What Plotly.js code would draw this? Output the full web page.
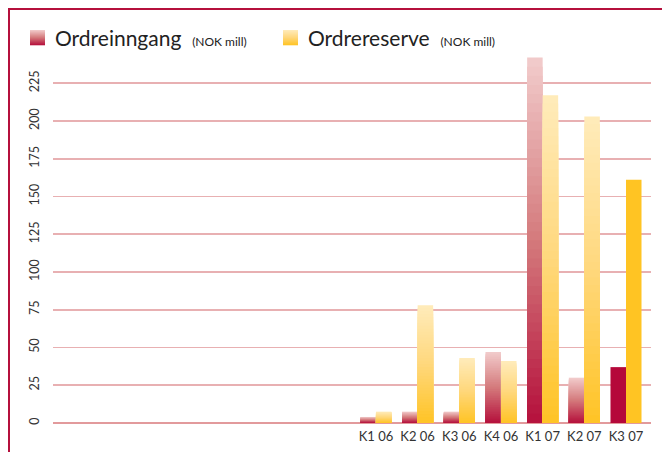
<!DOCTYPE html>
<html>
<head>
<meta charset="utf-8">
<script src="https://cdn.plot.ly/plotly-3.0.1.min.js"></script>
<style>
  html, body { margin:0; padding:0; background:#ffffff; overflow:hidden; }
  #chart { width:662px; height:452px; }
</style>
</head>
<body>
<div id="chart"></div>
<script>
// ---- data ----
const categories = ["K1 06", "K2 06", "K3 06", "K4 06", "K1 07", "K2 07", "K3 07"];
const ordreinngang = [4, 7.5, 7.5, 47, 242, 30, 37];
const ordrereserve = [7.5, 78, 43, 41, 217, 203, 161];
const yTicks = [0, 25, 50, 75, 100, 125, 150, 175, 200, 225];
const seriesNames = ["Ordreinngang", "Ordrereserve"];
const unitLabel = "(NOK mill)";

// ---- styling ----
const redStops = ["#b5103c", "#d47a7c", "#f2cccc"];     // bottom, mid, top
const yellowStops = ["#ffc425", "#ffd77c", "#ffebbb"];
const redSolid = "#b5083a", yellowSolid = "#ffc423";
const frameColor = "#b5103c";
const NSEG = 40;

function hex2rgb(h){ return [parseInt(h.slice(1,3),16), parseInt(h.slice(3,5),16), parseInt(h.slice(5,7),16)]; }
function mix(stops, t){
  const seg = t < 0.5 ? 0 : 1;
  const lt = t < 0.5 ? t/0.5 : (t-0.5)/0.5;
  const a = hex2rgb(stops[seg]), b = hex2rgb(stops[seg+1]);
  const c = a.map((v,i)=>Math.round(v + (b[i]-v)*lt));
  return `rgb(${c[0]},${c[1]},${c[2]})`;
}

const gradCats = categories.slice(0, categories.length-1);
const lastCat = categories[categories.length-1];
const traces = [];
// overlapping bars: tallest (lightest) first, shorter darker ones drawn over it
function addGradient(values, stops, group){
  const vals = values.slice(0, values.length-1);
  for (let k = 0; k < NSEG; k++){
    const frac = 1 - k/NSEG;
    traces.push({
      type:"bar", x: gradCats,
      y: vals.map(v => v*frac),
      offsetgroup: group,
      marker:{color: mix(stops, frac - 0.5/NSEG), line:{width:0}},
      showlegend:false, hoverinfo:"skip"
    });
  }
}
addGradient(ordreinngang, redStops, "a");
addGradient(ordrereserve, yellowStops, "b");
traces.push({type:"bar", x:[lastCat], y:[ordreinngang[ordreinngang.length-1]], offsetgroup:"a",
  marker:{color:redSolid, line:{width:0}}, showlegend:false, name:seriesNames[0]});
traces.push({type:"bar", x:[lastCat], y:[ordrereserve[ordrereserve.length-1]], offsetgroup:"b",
  marker:{color:yellowSolid, line:{width:0}}, showlegend:false, name:seriesNames[1]});

// ---- layout geometry ----
const W = 662, H = 452;
const M = {l:53, r:11, t:53, b:29};
const PW = W - M.l - M.r, PH = H - M.t - M.b;
const px = x => (x - M.l)/PW;
const py = y => (H - M.b - y)/PH;

const shapes = [];
const annotations = [];
// frame: top and left edges only
shapes.push({type:"line", xref:"paper", yref:"paper", x0:px(8), x1:px(W+2), y0:py(9), y1:py(9),
  line:{color:frameColor, width:2}, layer:"above"});
shapes.push({type:"line", xref:"paper", yref:"paper", x0:px(9), x1:px(9), y0:py(8), y1:py(H+2),
  line:{color:frameColor, width:2}, layer:"above"});

function legendItem(x0, stops, label){
  const S = 15, top = 30, n = 15;
  for (let i = 0; i < n; i++){
    shapes.push({type:"rect", xref:"paper", yref:"paper",
      x0: px(x0), x1: px(x0+S),
      y0: py(top + S*(i+1)/n + 0.3), y1: py(top + S*i/n),
      fillcolor: mix(stops, 1 - (i+0.5)/n), line:{width:0}, layer:"above"});
  }
  annotations.push({xref:"paper", yref:"paper", x: px(x0+S+8), y: py(top+S/2),
    xanchor:"left", yanchor:"middle", showarrow:false,
    text: label + '  <span style="font-size:12px">' + unitLabel + '</span>',
    font:{family:"Lato, 'Open Sans', sans-serif", size:21, color:"#222"}});
}
legendItem(30, redStops, seriesNames[0]);
legendItem(283, yellowStops, seriesNames[1]);

const layout = {
  width: W, height: H,
  margin: M,
  paper_bgcolor: "#ffffff",
  plot_bgcolor: "#ffffff",
  barmode: "group",
  bargap: 0.256, bargroupgap: 0,
  showlegend: false,
  font:{family:"Lato, 'Open Sans', sans-serif", color:"#333"},
  xaxis: {
    type:"category", categoryorder:"array", categoryarray: categories,
    range:[-7.75, 6.6], showgrid:false, zeroline:false, showline:false,
    ticks:"", ticklabelstandoff:4, tickfont:{size:13, color:"#333"}, fixedrange:true
  },
  yaxis: {
    range:[0, 245], tickvals: yTicks, ticktext: yTicks.map(String),
    tickangle:-90, showgrid:true, gridcolor:"#e8b0b2", gridwidth:1.6,
    zeroline:true, zerolinecolor:"#e29a9c", zerolinewidth:1.6,
    showline:false, ticks:"", ticklabelstandoff:11,
    tickfont:{size:12.5, color:"#333"}, fixedrange:true
  },
  shapes: shapes,
  annotations: annotations
};
Plotly.newPlot("chart", traces, layout, {displayModeBar:false, staticPlot:true});
</script>
</body>
</html>
